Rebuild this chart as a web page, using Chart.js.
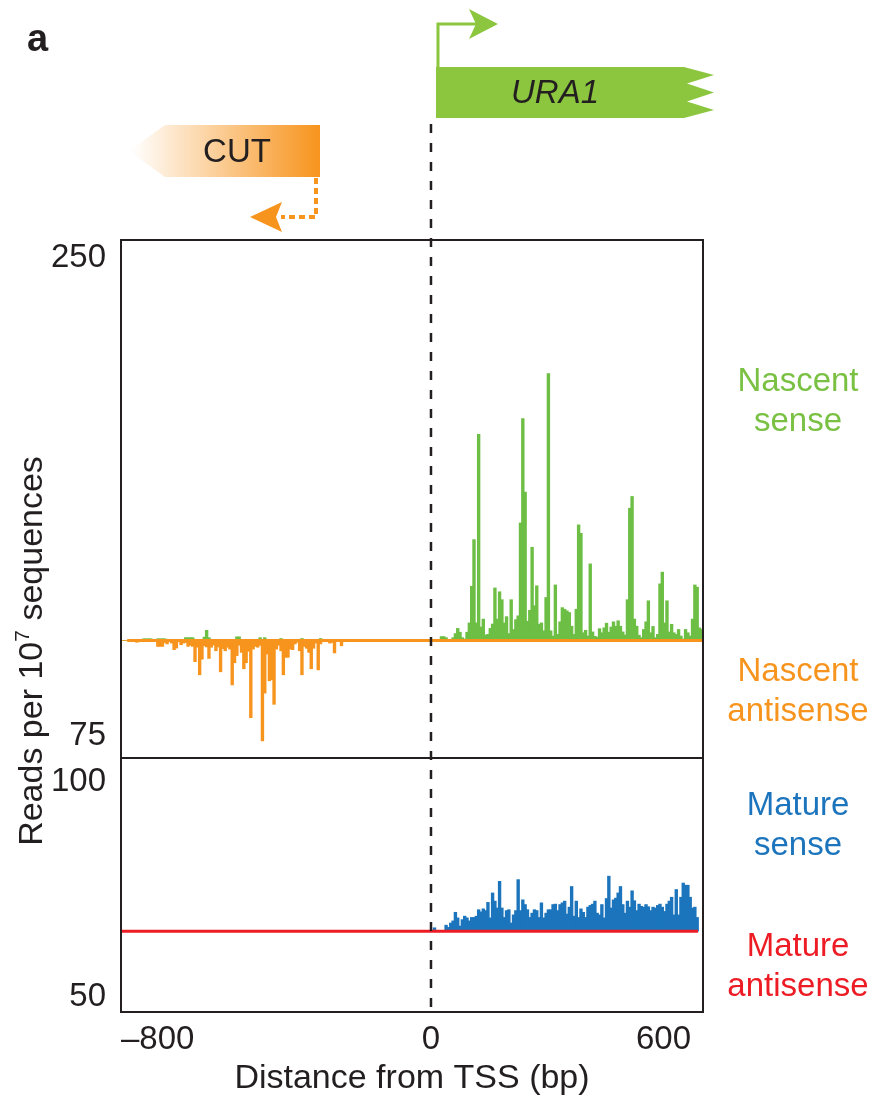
<!DOCTYPE html>
<html>
<head>
<meta charset="utf-8">
<script src="https://cdn.jsdelivr.net/npm/chart.js@4.4.0/dist/chart.umd.min.js"></script>
<style>
  html, body { margin: 0; padding: 0; background: #fff; }
  #wrap { position: relative; width: 876px; height: 1099px; }
</style>
</head>
<body>
<div id="wrap"><canvas id="profileChart"></canvas></div>
<script>
// bins of 6 bp, first bin starts at -798 bp
const binSize = 6;
const gridStart = -798;

// tick labels
const xTicks = [-800, 0, 600];
const nasTicks = [75, 250];
const matTicks = [50, 100];

// zero lines of the two panels (reads)
const nasBase = 110;
const matBase = 65.3;

// bp range covered by the antisense traces (drawn as flat lines)
const nasLineRange = [-784, 702];
const matLineRange = [-798, 689];

// nascent sense, from -798 bp (upward from nasBase)
const nasSense = [
  110, 110, 110, 110, 110, 110, 110, 110, 110, 110.6,
  110.6, 110.6, 110.6, 110, 110, 110.6, 110.6, 110.6, 110.6, 110,
  110, 110, 110, 110, 110, 110, 110, 111, 111, 111,
  111, 110, 110, 110, 110, 111.2, 113.7, 111, 110, 110,
  110, 110, 110, 110, 110, 110, 110, 110, 110, 111.3,
  111.3, 110, 110, 110, 110, 110, 110, 110, 110, 111,
  110, 111, 110, 110, 110, 110, 110, 110, 110.7, 110,
  110, 110, 110, 110, 110, 110, 110, 110.7, 110, 110,
  110, 110, 110, 110, 110, 110.7, 110, 110, 110, 110,
  110, 110, 110, 110, 110, 110, 110, 110, 110, 110,
  110, 110, 110, 110, 110, 110, 110, 110, 110, 110,
  110, 110, 110, 110, 110, 110, 110, 110, 110, 110,
  110, 110, 110, 110, 110, 110, 110, 110, 110, 110,
  110, 110, 110,
  // from 0 bp
  110, 110, 110, 110, 111.4, 111.4, 111, 110, 110, 111,
  112.5, 114.4, 113, 111, 110.5, 113, 116.4, 129.8, 146.9, 116.4,
  185.4, 114.9, 117.8, 112, 112.2, 114.4, 116, 129.2, 117.8, 127.8,
  124.9, 116.4, 118.7, 112.5, 124.9, 114, 117.6, 119, 153, 191.2,
  164.3, 117, 121, 144.1, 122.7, 130, 115.9, 116.4, 113.5, 125.7,
  207.7, 113.5, 111.6, 130.3, 112.2, 116.8, 122, 121.4, 120.8, 120.2,
  115.2, 112.2, 121.4, 152.3, 149.2, 112.8, 113.7, 111.6, 138, 113.1,
  111.5, 111.2, 114.3, 112.8, 114.6, 116.3, 113, 114.9, 116.8, 115.2,
  117.2, 115.2, 113.1, 112, 124.9, 158.4, 162.7, 117.8, 115.2, 111.9,
  111, 114, 116.8, 124.5, 112.8, 115.1, 111, 112.2, 130.7, 135,
  116.4, 124.5, 113.1, 115.9, 112.8, 112.2, 114, 111.6, 110.5, 114,
  112.8, 111.6, 117.8, 130.3, 129.5, 114.6, 114
];

// nascent antisense, from -798 bp (downward from nasBase)
const nasAntisense = [
  110, 110, 110, 110, 110, 110, 109.3, 109.5, 110, 110,
  110, 110, 109.8, 110, 109.6, 107.8, 107.8, 107.8, 109.2, 108.7,
  109.5, 109, 106.6, 107.2, 109.5, 108.4, 109, 109.2, 107.8, 108.2,
  107.8, 102.2, 107.5, 97.4, 103.1, 108, 107.6, 103.4, 107.5, 108.3,
  106.2, 107.6, 98.5, 107, 106.2, 107.5, 106.8, 93.7, 101.8, 104.4,
  108.2, 105.6, 99.6, 101.8, 106, 81.7, 106.8, 107.8, 107.5, 108.2,
  73.2, 90.7, 105, 95.2, 95.6, 86.6, 106.8, 108.2, 106.2, 97.4,
  103.8, 103.8, 106.8, 106.6, 108.7, 109.3, 106.2, 97.4, 107.8, 107.1,
  105.6, 99.6, 107.1, 109, 99.2, 108.7, 109.6, 109.5, 109.7, 109,
  109.2, 105.4, 109.6, 109.6, 108, 109.5, 110
];

// mature sense, from 0 bp (upward from matBase)
const matSenseStart = 0;
const matSense = [
  65.3, 66.1, 65.3, 65.3, 65.3, 65.3, 66.7, 66.2, 67.2, 67.7,
  69.7, 68.4, 66.5, 68, 68.8, 68.4, 67.7, 68.5, 68.5, 68.8,
  70.3, 69.8, 70.5, 70.1, 72, 68.4, 74.2, 72.3, 70.7, 76.9,
  70.7, 68.5, 70.1, 70.3, 67.2, 69.1, 70.1, 77.3, 70.1, 72.6,
  71.5, 70.3, 68.5, 69.5, 70.3, 70.1, 68.5, 71.9, 68.4, 69.5,
  70.3, 70.3, 71.5, 71.6, 70.1, 71.5, 71.9, 72.3, 69.3, 70.9,
  75.7, 68.8, 72.3, 68.5, 70.5, 69.7, 68.5, 70.9, 71.3, 71.6,
  72.3, 69.5, 69.1, 71.5, 68.4, 72.9, 78.1, 70.7, 72.6, 73,
  74.2, 75.7, 71.5, 69.5, 72.3, 70.9, 74.7, 72.4, 70.1, 71.6,
  71.1, 70.9, 71.5, 71, 70.1, 70.9, 70.7, 71.3, 71.6, 70.9,
  69.9, 71.6, 72.3, 73.2, 69.1, 75, 69.1, 73.2, 76.5, 76,
  76, 73.2, 70.7, 70.9, 68.5
];

const xMin = -800, xMax = 702;
const nasRange = [66.94, 256.59];
const matRange = [46.51, 105.58];

const green = "#6dbe45";
const geneGreen = "#8cc63f";
const orange = "#f7941d";
const blue = "#1c75bc";
const red = "#ed1c24";
const ink = "#231f20";
const fontFamily = "'Liberation Sans', Arial, Helvetica, sans-serif";

// layout of the canvas
const canvasW = 876;
const axisW = 121, padTop = 240, padRight = 173, xAxisH = 87;
const barPx = binSize * (canvasW - axisW - padRight) / (xMax - xMin) + 0.4;

function toBars(values, start) {
    return values.map((v, i) => ({ x: start + i * binSize + binSize / 2, y: v }));
}

function flatLine(range, level) {
    return range.map((x) => ({ x: x, y: level }));
}

function tickLabel(v) {
    if (!xTicks.includes(v)) return "";
    return v < 0 ? "\u2013" + (-v) : String(v);
}

// frame, panel divider, TSS line, gene cartoons and side labels
const decorations = {
    id: "decorations",
    afterDatasetsDraw(chart) {
        const ctx = chart.ctx;
        const area = chart.chartArea;
        const x0 = chart.scales.x.getPixelForValue(0);
        const split = chart.scales.yMat.top;

        ctx.save();
        ctx.strokeStyle = ink;
        ctx.lineWidth = 2;
        ctx.strokeRect(area.left, area.top, area.right - area.left, area.bottom - area.top);
        ctx.beginPath();
        ctx.moveTo(area.left, split);
        ctx.lineTo(area.right, split);
        ctx.stroke();

        // TSS
        ctx.setLineDash([9, 10]);
        ctx.lineWidth = 2.5;
        ctx.beginPath();
        ctx.moveTo(x0, 124);
        ctx.lineTo(x0, area.bottom);
        ctx.stroke();
        ctx.restore();
    },
    afterDraw(chart) {
        const ctx = chart.ctx;
        const x0 = chart.scales.x.getPixelForValue(0);
        ctx.save();

        // URA1 gene block
        ctx.fillStyle = geneGreen;
        ctx.beginPath();
        ctx.moveTo(x0 + 5, 67);
        ctx.lineTo(x0 + 253, 67);
        ctx.lineTo(x0 + 283, 75);
        ctx.lineTo(x0 + 256, 83.5);
        ctx.lineTo(x0 + 283, 92.5);
        ctx.lineTo(x0 + 256, 101.5);
        ctx.lineTo(x0 + 283, 110);
        ctx.lineTo(x0 + 253, 118);
        ctx.lineTo(x0 + 5, 118);
        ctx.closePath();
        ctx.fill();

        // bent arrow of the sense transcript
        ctx.strokeStyle = geneGreen;
        ctx.lineWidth = 3;
        ctx.beginPath();
        ctx.moveTo(x0 + 7, 68);
        ctx.lineTo(x0 + 7, 24);
        ctx.lineTo(x0 + 46, 24);
        ctx.stroke();
        ctx.beginPath();
        ctx.moveTo(x0 + 67, 24);
        ctx.lineTo(x0 + 38, 9);
        ctx.lineTo(x0 + 45, 24);
        ctx.lineTo(x0 + 38, 39);
        ctx.closePath();
        ctx.fill();

        ctx.fillStyle = ink;
        ctx.font = "italic 33px " + fontFamily;
        ctx.textAlign = "center";
        ctx.textBaseline = "middle";
        ctx.fillText("URA1", x0 + 124, 94);

        // CUT block with fading gradient
        const cutRight = x0 - 111;
        const grad = ctx.createLinearGradient(x0 - 300, 0, cutRight, 0);
        grad.addColorStop(0, "rgba(247,148,29,0)");
        grad.addColorStop(1, orange);
        ctx.fillStyle = grad;
        ctx.beginPath();
        ctx.moveTo(cutRight, 125);
        ctx.lineTo(x0 - 266, 125);
        ctx.lineTo(x0 - 302, 151);
        ctx.lineTo(x0 - 266, 177);
        ctx.lineTo(cutRight, 177);
        ctx.closePath();
        ctx.fill();

        ctx.fillStyle = ink;
        ctx.font = "33px " + fontFamily;
        ctx.fillText("CUT", x0 - 194, 153);

        // dotted antisense arrow
        ctx.strokeStyle = orange;
        ctx.fillStyle = orange;
        ctx.lineWidth = 4;
        ctx.setLineDash([6, 4]);
        ctx.beginPath();
        ctx.moveTo(x0 - 115, 178);
        ctx.lineTo(x0 - 115, 217);
        ctx.lineTo(x0 - 150, 217);
        ctx.stroke();
        ctx.setLineDash([]);
        ctx.beginPath();
        ctx.moveTo(x0 - 181, 217);
        ctx.lineTo(x0 - 149, 202);
        ctx.lineTo(x0 - 155, 217);
        ctx.lineTo(x0 - 149, 232);
        ctx.closePath();
        ctx.fill();

        // side labels
        const labels = [
            { text: ["Nascent", "sense"], color: "#7ac143", y: 382 },
            { text: ["Nascent", "antisense"], color: orange, y: 672 },
            { text: ["Mature", "sense"], color: blue, y: 806 },
            { text: ["Mature", "antisense"], color: red, y: 947 },
        ];
        ctx.font = "33px " + fontFamily;
        labels.forEach((l) => {
            ctx.fillStyle = l.color;
            l.text.forEach((t, i) => ctx.fillText(t, 798, l.y + i * 40));
        });

        // y title with superscript
        ctx.fillStyle = ink;
        ctx.translate(42, 651);
        ctx.rotate(-Math.PI / 2);
        ctx.textAlign = "left";
        ctx.textBaseline = "alphabetic";
        const big = "34px " + fontFamily, small = "21px " + fontFamily;
        ctx.font = big;
        const w1 = ctx.measureText("Reads per 10").width;
        const w3 = ctx.measureText(" sequences").width;
        ctx.font = small;
        const w2 = ctx.measureText("7").width;
        let pos = -(w1 + w2 + w3) / 2;
        ctx.font = big;
        ctx.fillText("Reads per 10", pos, 0);
        pos += w1;
        ctx.font = small;
        ctx.fillText("7", pos, -13);
        pos += w2;
        ctx.font = big;
        ctx.fillText(" sequences", pos, 0);
        ctx.setTransform(1, 0, 0, 1, 0, 0);

        // panel letter
        ctx.fillStyle = ink;
        ctx.font = "bold 38px " + fontFamily;
        ctx.textAlign = "left";
        ctx.fillText("a", 27, 51);
        ctx.restore();
    }
};

const ctx = document.getElementById("profileChart").getContext("2d");

window.profileChart = new Chart(ctx, {
    type: "bar",
    data: {
        datasets: [
            {
                type: "line",
                label: "Nascent antisense zero",
                data: flatLine(nasLineRange, nasBase),
                yAxisID: "yNas",
                borderColor: orange,
                borderWidth: 3,
                pointRadius: 0,
                tension: 0,
            },
            {
                type: "line",
                label: "Mature antisense",
                data: flatLine(matLineRange, matBase),
                yAxisID: "yMat",
                borderColor: red,
                borderWidth: 3,
                pointRadius: 0,
                tension: 0,
            },
            {
                label: "Nascent antisense",
                data: toBars(nasAntisense, gridStart),
                yAxisID: "yNas",
                base: nasBase,
                backgroundColor: orange,
            },
            {
                label: "Nascent sense",
                data: toBars(nasSense, gridStart),
                yAxisID: "yNas",
                base: nasBase,
                backgroundColor: green,
            },
            {
                label: "Mature sense",
                data: toBars(matSense, matSenseStart),
                yAxisID: "yMat",
                base: matBase,
                backgroundColor: blue,
            },
        ],
    },
    options: {
        responsive: true,
        maintainAspectRatio: false,
        animation: false,
        layout: { padding: { top: padTop, right: padRight, left: 0, bottom: 0 } },
        datasets: {
            bar: {
                grouped: false,
                barThickness: barPx,
                borderWidth: 0,
            },
        },
        plugins: {
            legend: { display: false },
            tooltip: { enabled: false },
        },
        scales: {
            x: {
                type: "linear",
                min: xMin,
                max: xMax,
                offset: false,
                afterBuildTicks: (scale) => {
                    scale.ticks = xTicks.concat([xMax]).map((v) => ({ value: v }));
                },
                afterFit: (scale) => { scale.height = xAxisH; },
                grid: { display: false, drawTicks: false },
                border: { display: false },
                ticks: {
                    autoSkip: false,
                    maxRotation: 0,
                    align: "inner",
                    padding: 8,
                    color: ink,
                    font: { family: fontFamily, size: 33 },
                    callback: (v) => tickLabel(v),
                },
                title: {
                    display: true,
                    text: "Distance from TSS (bp)",
                    color: ink,
                    font: { family: fontFamily, size: 34 },
                    padding: { top: 0, bottom: 0 },
                },
            },
            yNas: {
                type: "linear",
                position: "left",
                stack: "panels",
                stackWeight: 518,
                weight: 2,
                min: nasRange[0],
                max: nasRange[1],
                afterBuildTicks: (scale) => {
                    scale.ticks = nasTicks.map((v) => ({ value: v }));
                },
                afterFit: (scale) => { scale.width = axisW; },
                grid: { display: false, drawTicks: false },
                border: { display: false },
                ticks: {
                    padding: 15,
                    color: ink,
                    font: { family: fontFamily, size: 33 },
                },
            },
            yMat: {
                type: "linear",
                position: "left",
                stack: "panels",
                stackWeight: 254,
                weight: 1,
                min: matRange[0],
                max: matRange[1],
                afterBuildTicks: (scale) => {
                    scale.ticks = matTicks.map((v) => ({ value: v }));
                },
                afterFit: (scale) => { scale.width = axisW; },
                grid: { display: false, drawTicks: false },
                border: { display: false },
                ticks: {
                    padding: 15,
                    color: ink,
                    font: { family: fontFamily, size: 33 },
                },
            },
        },
    },
    plugins: [decorations],
});
</script>
</body>
</html>
